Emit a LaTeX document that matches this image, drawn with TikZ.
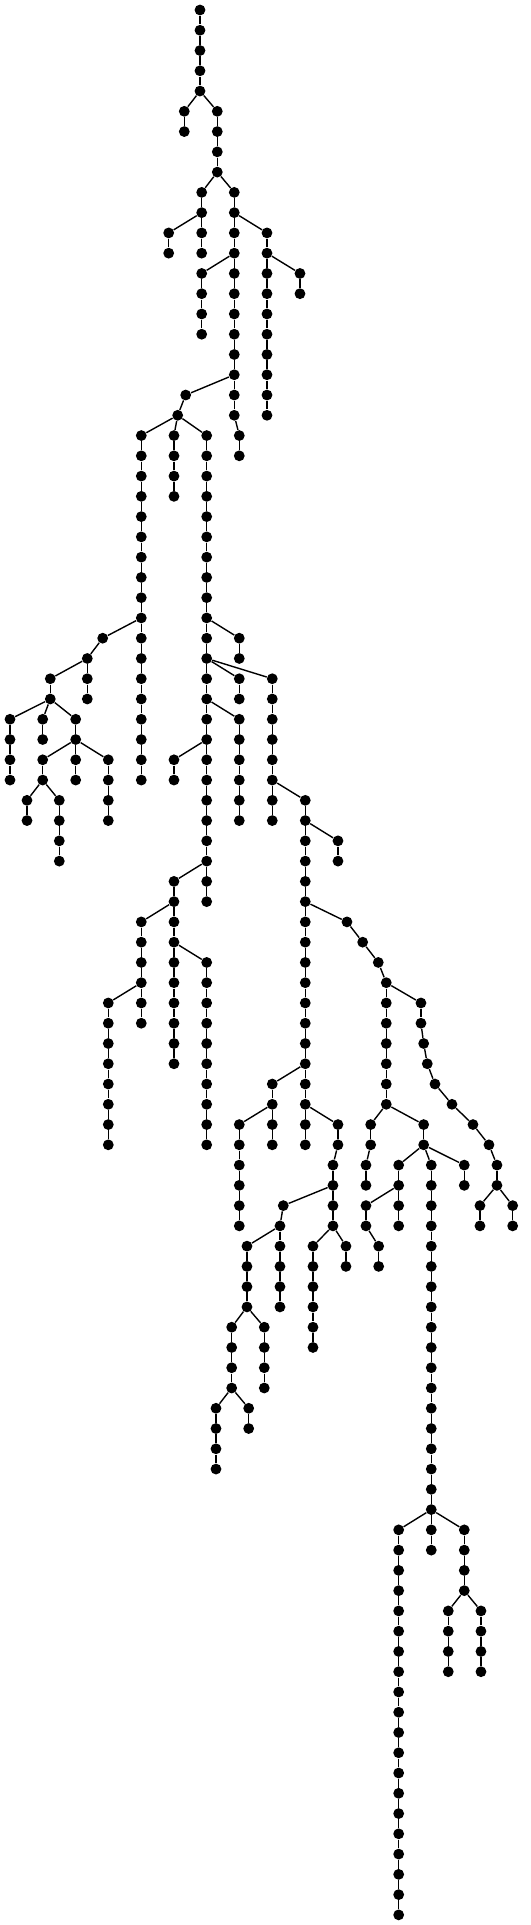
\documentclass[tikz,border=0pt]{standalone}
\usepackage{tikz}
\tikzset{
	vertex/.style={
		circle,
		fill=black,
		inner sep=0pt,
		minimum size=5.4pt},
	edge/.style={draw, line width=0.7pt},
}
% vertical run of vertices: name, parent, x, first level, last level
\newcommand{\vrun}[5]{%
	\foreach \i in {#4,...,#5}{%
		\node[vertex] (#1-\i) at (#3,\i) {};
		\ifnum\i>#4 \pgfmathtruncatemacro\prev{\i-1}\draw[edge] (#1-\prev) -- (#1-\i);\fi}%
	\ifx\relax#2\relax\else\draw[edge] (#2) -- (#1-#4);\fi}

\begin{document}
\begin{tikzpicture}
			[x=0.5pt, y=-10.133pt]
			\useasboundingbox (0,-0.4934) rectangle (531,94.5);
			\vrun{a}{}{200}{0}{4}
			\vrun{b}{a-4}{184.3}{5}{6}
			\vrun{c}{a-4}{217.3}{5}{8}
			\vrun{d}{c-8}{201.7}{9}{12}
			\vrun{e}{c-8}{234.3}{9}{20}
			\vrun{f}{d-10}{168.7}{11}{12}
			\vrun{g}{e-10}{267}{11}{20}
			\vrun{h}{g-12}{300}{13}{14}
			\vrun{i}{e-12}{201.7}{13}{16}
			\vrun{j}{e-20}{239.3}{21}{22}
			\vrun{k}{e-18}{185.7}{19}{19}
			\vrun{l}{k-19}{177.7}{20}{20}
			\vrun{m}{l-20}{141.3}{21}{38}
			\vrun{n}{l-20}{174}{21}{24}
			\vrun{o}{l-20}{206.7}{21}{44}
			\vrun{p}{o-30}{239.3}{31}{32}
			\vrun{q}{o-32}{239.3}{33}{34}
			\vrun{r}{o-32}{272.3}{33}{40}
			\vrun{s}{o-34}{239.3}{35}{40}
			\vrun{t}{o-36}{174}{37}{38}
			\vrun{u}{o-42}{174}{43}{52}
			\vrun{ua}{u-44}{141.3}{45}{50}
			\vrun{ub}{ua-48}{108.3}{49}{56}
			\vrun{uc}{u-46}{206.7}{47}{56}
			% left wing
			\vrun{ma}{m-30}{102.7}{31}{31}
			\vrun{mb}{ma-31}{87.3}{32}{34}
			\vrun{mc}{mb-32}{50.3}{33}{34}
			\vrun{md}{mc-34}{10}{35}{38}
			\vrun{me}{mc-34}{42.7}{35}{36}
			\vrun{mf}{mc-34}{75.7}{35}{38}
			\vrun{mg}{mf-36}{42.7}{37}{38}
			\vrun{mh}{mf-36}{108.3}{37}{40}
			\vrun{mi}{mg-38}{27}{39}{40}
			\vrun{mj}{mg-38}{59.3}{39}{42}
			% right wing
			\vrun{v}{r-38}{305.3}{39}{56}
			\vrun{w}{v-40}{338}{41}{42}
			\vrun{xa}{v-44}{347}{45}{45}
			\vrun{xb}{xa-45}{362.7}{46}{46}
			\vrun{xc}{xb-46}{378.3}{47}{47}
			\vrun{xd}{xc-47}{386.3}{48}{54}
			\vrun{xe}{xd-54}{370.7}{55}{56}
			\vrun{xf}{xd-54}{423.7}{55}{56}
			\vrun{xg}{xe-56}{366}{57}{58}
			\vrun{xh}{xf-56}{398.7}{57}{60}
			\vrun{xi}{xh-58}{366}{59}{60}
			\vrun{xj}{xi-60}{378.7}{61}{62}
			\vrun{xk}{xf-56}{431.3}{57}{76}
			\vrun{xl}{xf-56}{464.3}{57}{58}
			\vrun{xm}{xk-74}{398.7}{75}{94}
			\vrun{xn}{xk-74}{464.3}{75}{78}
			\vrun{xo}{xn-78}{448.3}{79}{82}
			\vrun{xp}{xn-78}{481}{79}{82}
			\vrun{ya}{xd-48}{421}{49}{50}
			\vrun{yb}{ya-50}{423.7}{51}{51}
			\vrun{yc}{yb-51}{427.3}{52}{52}
			\vrun{yd}{yc-52}{435}{53}{53}
			\vrun{ye}{yd-53}{452}{54}{54}
			\vrun{yf}{ye-54}{473}{55}{55}
			\vrun{yg}{yf-55}{489}{56}{56}
			\vrun{yh}{yg-56}{497}{57}{58}
			\vrun{yi}{yh-58}{480}{59}{60}
			\vrun{yj}{yh-58}{512.7}{59}{60}
			\vrun{za}{v-52}{272.3}{53}{56}
			\vrun{zb}{za-54}{239.3}{55}{60}
			\vrun{zc}{v-54}{338}{55}{56}
			\vrun{zd}{zc-56}{333}{57}{60}
			\vrun{ze}{zd-60}{313}{61}{66}
			\vrun{zf}{zd-60}{346}{61}{62}
			\vrun{zg}{zd-58}{283.3}{59}{59}
			\vrun{zh}{zg-59}{280}{60}{64}
			\vrun{zi}{zh-60}{247}{61}{64}
			\vrun{zj}{zi-64}{231.7}{65}{68}
			\vrun{zk}{zi-64}{264.3}{65}{68}
			\vrun{zl}{zj-68}{216}{69}{72}
			\vrun{zm}{zj-68}{248.7}{69}{70}
			\end{tikzpicture}
\end{document}
